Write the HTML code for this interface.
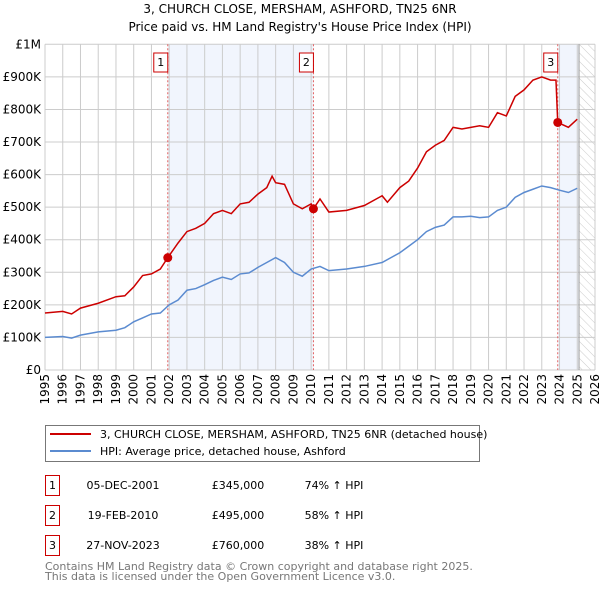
<!DOCTYPE html>
<html><head><meta charset="utf-8"><style>
body{margin:0;background:#fff;width:600px;height:590px;overflow:hidden;font-family:"DejaVu Sans","Liberation Sans",sans-serif}
svg text{font-family:"DejaVu Sans","Liberation Sans",sans-serif}
</style></head><body>
<svg id="c" width="600" height="590">
<defs><pattern id="hatch" width="6" height="6" patternUnits="userSpaceOnUse" patternTransform="rotate(-45)"><line x1="0" y1="0" x2="0" y2="6" stroke="#ccc" stroke-width="1"/></pattern></defs>
<text x="300" y="13" text-anchor="middle" font-size="12">3, CHURCH CLOSE, MERSHAM, ASHFORD, TN25 6NR</text>
<text x="300" y="31" text-anchor="middle" font-size="12">Price paid vs. HM Land Registry's House Price Index (HPI)</text>
<g id="plot"></g>
<g>
<rect x="45.5" y="425.5" width="434" height="36" fill="#fff" stroke="#777"/>
<line x1="50" y1="434" x2="91" y2="434" stroke="#cc0000" stroke-width="2"/>
<text x="100" y="438" font-size="11">3, CHURCH CLOSE, MERSHAM, ASHFORD, TN25 6NR (detached house)</text>
<line x1="50" y1="451" x2="91" y2="451" stroke="#5b8bd0" stroke-width="2"/>
<text x="100" y="455" font-size="11">HPI: Average price, detached house, Ashford</text>
</g>
<g id="table" font-size="11"></g>
<text x="45" y="570" font-size="11" fill="#777">Contains HM Land Registry data © Crown copyright and database right 2025.</text>
<text x="45" y="580" font-size="11" fill="#777">This data is licensed under the Open Government Licence v3.0.</text>
</svg>
<script>
const hpiYears=[1995,1996,1996.5,1997,1998,1999,1999.5,2000,2000.5,2001,2001.5,2002,2002.5,2003,2003.5,2004,2004.5,2005,2005.5,2006,2006.5,2007,2007.5,2008,2008.5,2009,2009.5,2010,2010.5,2011,2012,2013,2014,2014.5,2015,2015.5,2016,2016.5,2017,2017.5,2018,2018.5,2019,2019.5,2020,2020.5,2021,2021.5,2022,2022.5,2023,2023.5,2024,2024.5,2025];
const hpiValues=[100,103,98,107,117,122,130,148,160,172,175,200,215,245,250,262,275,285,278,295,298,315,330,345,330,300,288,310,318,305,310,318,330,345,360,380,400,425,438,445,470,470,472,468,470,490,500,530,545,555,565,560,552,545,558];
const priceYears=[1995,1996,1996.5,1997,1998,1999,1999.5,2000,2000.5,2001,2001.5,2001.92,2002.5,2003,2003.5,2004,2004.5,2005,2005.5,2006,2006.5,2007,2007.5,2007.8,2008,2008.5,2009,2009.5,2010,2010.13,2010.5,2011,2012,2013,2014,2014.3,2015,2015.5,2016,2016.5,2017,2017.5,2018,2018.5,2019,2019.5,2020,2020.5,2021,2021.5,2022,2022.5,2023,2023.5,2023.8,2023.9,2024.5,2025];
const priceValues=[175,180,172,190,205,225,228,255,290,295,310,345,390,425,435,450,480,490,480,510,515,540,560,595,575,570,510,495,510,495,525,485,490,505,535,515,560,580,620,670,690,705,745,740,745,750,745,790,780,840,860,890,900,890,890,760,745,770];
const saleYears=[2001.92,2010.13,2023.9];
const saleValues=[345,495,760];
const saleLabels=["1","2","3"];
const saleDates=["05-DEC-2001","19-FEB-2010","27-NOV-2023"];
const salePrices=["£345,000","£495,000","£760,000"];
const saleHpi=["74% ↑ HPI","58% ↑ HPI","38% ↑ HPI"];
const yTicks=[0,100,200,300,400,500,600,700,800,900,1000];
const yTickLabels=["£0","£100K","£200K","£300K","£400K","£500K","£600K","£700K","£800K","£900K","£1M"];
const xTicks=[1995,1996,1997,1998,1999,2000,2001,2002,2003,2004,2005,2006,2007,2008,2009,2010,2011,2012,2013,2014,2015,2016,2017,2018,2019,2020,2021,2022,2023,2024,2025,2026];

const L=45,R=595,T=44.3,B=370;
const X=y=>L+(y-1995)/(2026-1995)*(R-L);
const Y=v=>B-v/1000*(B-T);
const NS="http://www.w3.org/2000/svg";
const g=document.getElementById('plot');
function mk(tag,attrs,parent){const e=document.createElementNS(NS,tag);for(const k in attrs)e.setAttribute(k,attrs[k]);(parent||g).appendChild(e);return e;}
let e;
e=mk('rect',{x:X(saleYears[0]),y:T,width:X(saleYears[1])-X(saleYears[0]),height:B-T,fill:'#eef3fd',opacity:0.8});


e=mk('rect',{x:X(saleYears[2]),y:T,width:X(2025.1)-X(saleYears[2]),height:B-T,fill:'#eef3fd',opacity:0.8});


e=mk('rect',{x:X(2025.1),y:T,width:R-X(2025.1),height:B-T,fill:'url(#hatch)'});


yTicks.forEach((t,i)=>{
 e=mk('line',{x1:L,x2:R,y1:Y(t),y2:Y(t),stroke:'#ccc','stroke-width':1});
 
 
 e=mk('text',{x:L-4,y:Y(t)+4,'text-anchor':'end','font-size':12});
 e.textContent=yTickLabels[i];
 
 
});
xTicks.forEach(t=>{
 e=mk('line',{x1:X(t),x2:X(t),y1:T,y2:B,stroke:'#ccc','stroke-width':1});
 
 
 e=mk('text',{x:0,y:0,'font-size':12,'text-anchor':'end',transform:`translate(${X(t)+4},${B+4}) rotate(-90)`});
 e.textContent=t;
 
 
});
e=mk('line',{x1:X(2025.1),x2:X(2025.1),y1:T,y2:B,stroke:'#999','stroke-width':1});


saleYears.forEach((s,i)=>{
 e=mk('line',{x1:X(s),x2:X(s),y1:T,y2:B,stroke:'#e06060','stroke-width':1,'stroke-dasharray':'2,2'});
 
 
 e=mk('rect',{x:X(s)-14,y:53,width:14,height:19,fill:'#fff',stroke:'#cc0000'});
 
 
 e=mk('text',{x:X(s)-7,y:66,'text-anchor':'middle','font-size':11});
 e.textContent=saleLabels[i];
 
 
});
e=mk('polyline',{points:hpiYears.map((y,i)=>X(y)+','+Y(hpiValues[i])).join(' '),fill:'none',stroke:'#5b8bd0','stroke-width':1.5});


e=mk('polyline',{points:priceYears.map((y,i)=>X(y)+','+Y(priceValues[i])).join(' '),fill:'none',stroke:'#cc0000','stroke-width':1.5});


saleYears.forEach((s,i)=>{
 e=mk('circle',{cx:X(s),cy:Y(saleValues[i]),r:4.5,fill:'#cc0000'});
 
 
});
const tb=document.getElementById('table');
saleLabels.forEach((lab,i)=>{
 const y0=475+i*30;
 e=mk('rect',{x:45.5,y:y0+0.5,width:14,height:20,fill:'#fff',stroke:'#cc0000'},tb);
 
 
 const cells=[[52.5,lab,'middle'],[123,saleDates[i],'middle'],[238,salePrices[i],'middle'],[334,saleHpi[i],'middle']];
 cells.forEach(c=>{
  e=mk('text',{x:c[0],y:y0+14,'text-anchor':c[2],'font-size':11},tb);
  e.textContent=c[1];
  
  
 });
});
</script>
</body></html>
